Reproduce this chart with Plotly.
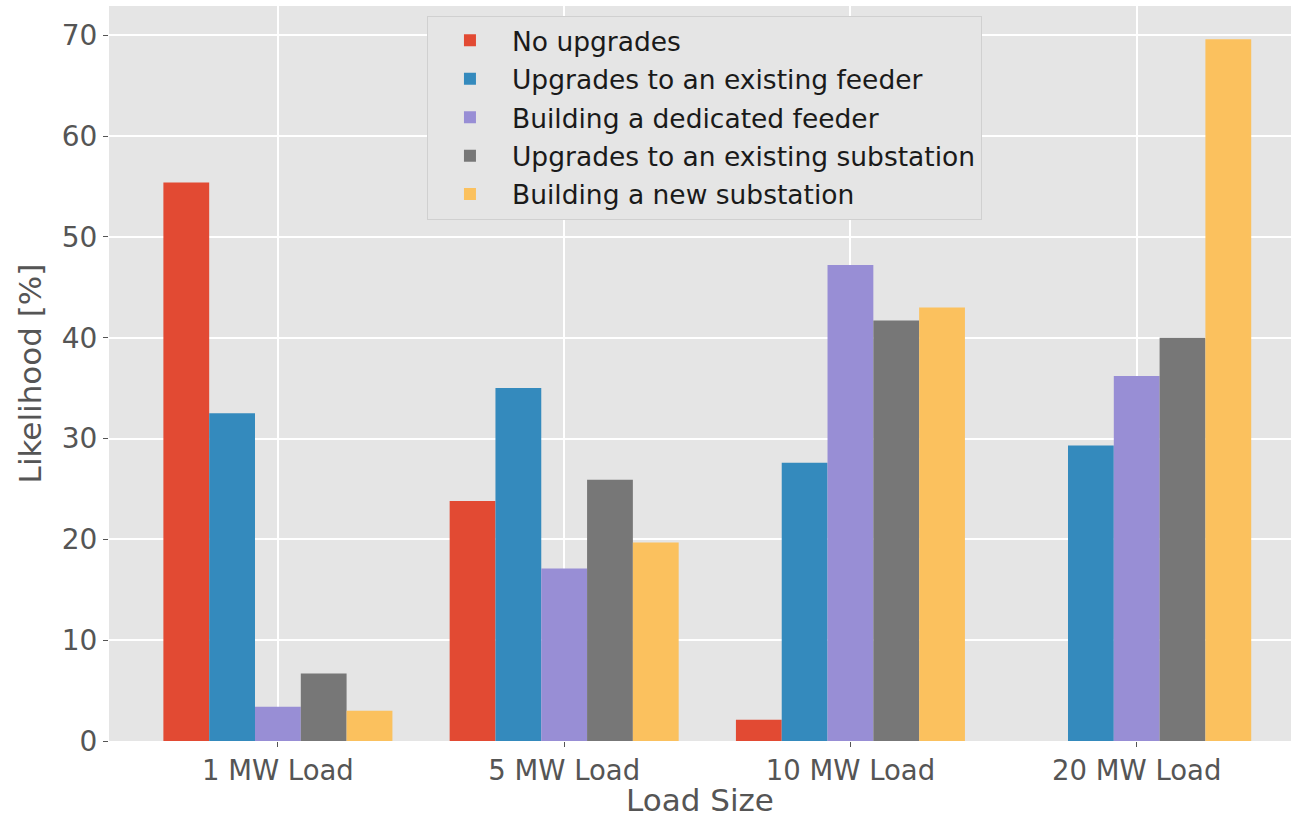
import plotly.graph_objects as go

categories = ["1 MW Load", "5 MW Load", "10 MW Load", "20 MW Load"]

no_upgrades = [55.4, 23.8, 2.1, 0.0]
upgrades_existing_feeder = [32.5, 35.0, 27.6, 29.3]
building_dedicated_feeder = [3.4, 17.1, 47.2, 36.2]
upgrades_existing_substation = [6.7, 25.9, 41.7, 40.0]
building_new_substation = [3.0, 19.7, 43.0, 69.6]

series_names = [
    "No upgrades",
    "Upgrades to an existing feeder",
    "Building a dedicated feeder",
    "Upgrades to an existing substation",
    "Building a new substation",
]
series_values = [
    no_upgrades,
    upgrades_existing_feeder,
    building_dedicated_feeder,
    upgrades_existing_substation,
    building_new_substation,
]
colors = ["#E24A33", "#348ABD", "#988ED5", "#777777", "#FBC15E"]

y_ticks = [0, 10, 20, 30, 40, 50, 60, 70]

FONT = "DejaVu Sans"

fig = go.Figure()
for i, (name, vals, col) in enumerate(zip(series_names, series_values, colors)):
    fig.add_trace(go.Bar(
        x=categories, y=vals, name=name,
        marker=dict(color=col, line=dict(width=0)),
        legendgroup=f"g{i}",
    ))

fig.update_layout(
    width=1291, height=818,
    margin=dict(l=109, r=0, t=6, b=77),
    paper_bgcolor="white",
    plot_bgcolor="#E5E5E5",
    barmode="group",
    bargap=0.2,
    bargroupgap=0,
    font=dict(family=FONT, color="#555555", size=27),
    legend=dict(
        x=0.269, y=0.987, xanchor="left", yanchor="top",
        bgcolor="#E5E5E5", bordercolor="#D0D0D0", borderwidth=1,
        font=dict(family=FONT, size=26.5, color="#1a1a1a"),
        tracegroupgap=1,
        itemwidth=74,
    ),
    showlegend=True,
)

fig.update_xaxes(
    type="category",
    range=[-0.59, 3.539],
    showgrid=True, gridcolor="white", gridwidth=1.6,
    ticks="outside", ticklen=5, tickwidth=1, tickcolor="#555555",
    tickfont=dict(family=FONT, size=27.5, color="#555555"),
    title=dict(text="Load Size", font=dict(family=FONT, size=31, color="#555555"), standoff=6),
    showline=False, zeroline=False,
)
fig.update_yaxes(
    range=[0, 72.9],
    tickvals=y_ticks,
    showgrid=True, gridcolor="white", gridwidth=1.6,
    ticks="outside", ticklen=5, tickwidth=1, tickcolor="#555555",
    tickfont=dict(family=FONT, size=28, color="#555555"),
    title=dict(text="Likelihood [%]", font=dict(family=FONT, size=31, color="#555555"), standoff=10),
    showline=False, zeroline=False,
)

fig.write_html(
    "out.html",
    config={"displayModeBar": False},
    post_script="document.body.style.margin='0';document.body.style.overflow='hidden';",
)
